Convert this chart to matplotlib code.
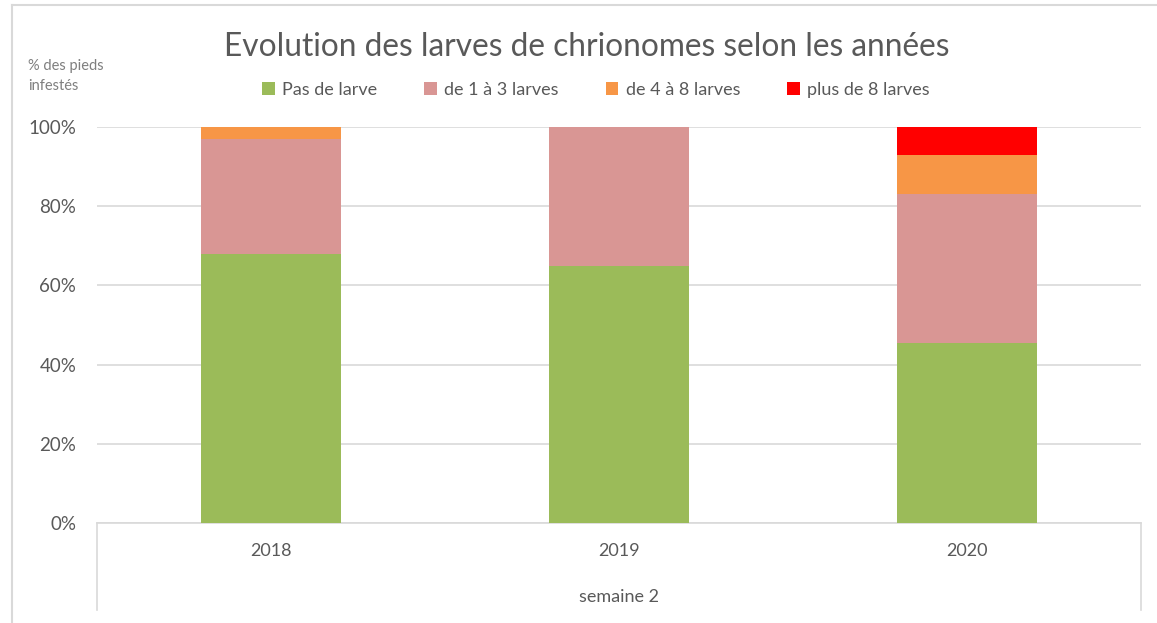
import matplotlib
matplotlib.use("Agg")
import matplotlib.pyplot as plt
from matplotlib.lines import Line2D
import numpy as np

plt.rcParams['font.family'] = ['Lato', 'DejaVu Sans']

years = ["2018", "2019", "2020"]
group_label = "semaine 2"
series_names = ["Pas de larve", "de 1 à 3 larves", "de 4 à 8 larves", "plus de 8 larves"]
pas_de_larve = [68, 65, 45.5]
de_1_a_3 = [29, 35, 37.5]
de_4_a_8 = [3, 0, 10]
plus_de_8 = [0, 0, 7]
colors = ["#9bbb59", "#d99694", "#f79646", "#ff0000"]
yticks = [0, 20, 40, 60, 80, 100]
title = "Evolution des larves de chrionomes selon les années"
ylabel = "% des pieds\ninfestés"

W, H = 1157, 623
fig = plt.figure(figsize=(W / 100, H / 100), dpi=100)
ax = fig.add_axes([97 / W, (H - 523) / H, (1141 - 97) / W, (523 - 127) / H])

x = np.arange(len(years))
bottom = np.zeros(len(years))
handles = []
for name, vals, c in zip(series_names, [pas_de_larve, de_1_a_3, de_4_a_8, plus_de_8], colors):
    b = ax.bar(x, vals, width=0.4, bottom=bottom, color=c, label=name, zorder=3)
    handles.append(b)
    bottom += np.array(vals)

ax.set_xlim(-0.5, len(years) - 0.5)
ax.set_ylim(0, 100)
ax.set_yticks(yticks)
ax.set_yticklabels([f"{v}%" for v in yticks], fontsize=13.5, color="#595959")
ax.yaxis.grid(True, color="#d9d9d9", linewidth=1.2, zorder=0)
ax.tick_params(axis='y', length=0, pad=15)
ax.set_xticks([])
for s in ["left", "right", "top"]:
    ax.spines[s].set_visible(False)
ax.spines["bottom"].set_color("#d9d9d9")
ax.spines["bottom"].set_linewidth(1.2)

# category labels
for xi, lab in zip(x, years):
    ax.text(xi, -7, lab, ha="center", va="center", fontsize=13, color="#595959",
            transform=ax.transData, clip_on=False)
ax.text(1, -18.6, group_label, ha="center", va="center", fontsize=13, color="#595959",
        transform=ax.transData, clip_on=False)

# multi-level axis frame
bot = (H - 610) / H
for xp in [97 / W, 1141 / W]:
    fig.add_artist(Line2D([xp, xp], [(H - 523) / H, bot], color="#d9d9d9", linewidth=1.2))

# outer chart border
fig.add_artist(Line2D([12 / W, 1], [(H - 5) / H, (H - 5) / H], color="#d9d9d9", linewidth=1.5))
fig.add_artist(Line2D([12 / W, 12 / W], [(H - 5) / H, 0], color="#d9d9d9", linewidth=1.5))

fig.text(587 / W, (H - 47) / H, title, ha="center", va="center", fontsize=22.8, color="#595959")
fig.text(28 / W, (H - 76) / H, ylabel, ha="left", va="center", fontsize=10.5, color="#7f7f7f",
         linespacing=1.6)

fig.legend(handles=handles, labels=series_names, loc="center", bbox_to_anchor=(596 / W, (H - 90) / H),
           ncol=4, frameon=False, fontsize=13, handlelength=0.7, handleheight=0.7,
           handletextpad=0.4, columnspacing=2.6, labelcolor="#595959")

fig.savefig("out.png", dpi=100, facecolor="white")
